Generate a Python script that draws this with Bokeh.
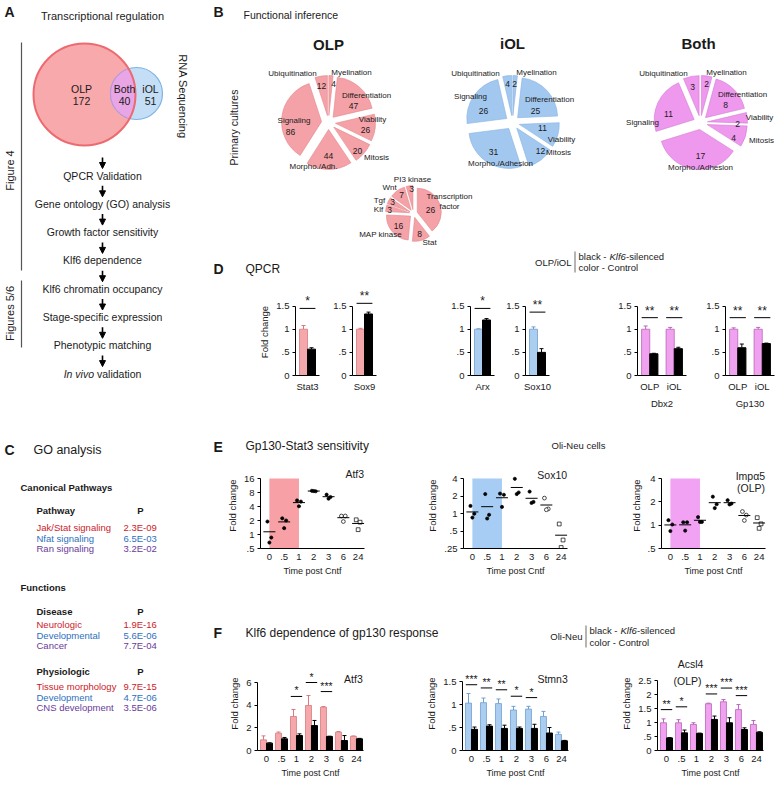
import math
from bokeh.plotting import figure
from bokeh.layouts import row, column
from bokeh.models import (ColumnDataSource, Range1d, FactorRange, FixedTicker,
                          CustomJSTickFormatter, Arrow, NormalHead, Label, BoxAnnotation)
from bokeh.transform import dodge
from bokeh.core.properties import value
from bokeh.embed import file_html
from bokeh.resources import INLINE

FONT = "Liberation Sans"
INK = "#1a1a1a"

# ======================= DATA =======================
# A: Venn + workflow
venn_labels = ["OLP", "Both", "iOL"]
venn_counts = [172, 40, 51]
flow_steps = ["QPCR Validation", "Gene ontology (GO) analysis", "Growth factor sensitivity",
              "Klf6 dependence", "Klf6 chromatin occupancy", "Stage-specific expression",
              "Phenotypic matching", "In vivo validation"]

# C: GO analysis
go_pathways = ["Jak/Stat signaling", "Nfat signaling", "Ran signaling"]
go_pathways_p = ["2.3E-09", "6.5E-03", "3.2E-02"]
go_disease = ["Neurologic", "Developmental", "Cancer"]
go_disease_p = ["1.9E-16", "5.6E-06", "7.7E-04"]
go_physio = ["Tissue morphology", "Development", "CNS development"]
go_physio_p = ["9.7E-15", "4.7E-06", "3.5E-06"]

# B: functional inference pies (clockwise from 12 o'clock)
pie_categories_short = ["Myelination", "Differentiation", "Viability", "Mitosis",
                        "Morpho./Adh.", "Signaling", "Ubiquitination"]
pie_categories_long = ["Myelination", "Differentiation", "Viability", "Mitosis",
                       "Morpho./Adhesion", "Signaling", "Ubiquitination"]
olp_counts = [4, 47, 26, 20, 44, 86, 12]
iol_counts = [2, 25, 11, 12, 31, 26, 4]
both_counts = [2, 8, 2, 4, 17, 11, 3]
signaling_categories = ["Transcription\nfactor", "Stat", "MAP kinase", "Klf", "Tgf", "Wnt", "PI3 kinase"]
signaling_counts = [26, 8, 16, 3, 3, 7, 3]

# D: QPCR
single_genes = ["Stat3", "Sox9", "Arx", "Sox10"]
single_ctrl = [1.00, 1.00, 1.00, 1.00]
single_ctrl_err = [0.08, 0.02, 0.01, 0.05]
single_kd = [0.57, 1.33, 1.20, 0.50]
single_kd_err = [0.03, 0.04, 0.03, 0.08]
single_sig = ["*", "**", "*", "**"]
single_sig_y = [1.45, 1.56, 1.45, 1.37]
stage_groups = ["OLP", "iOL"]
dbx2_ctrl = [1.00, 1.00]
dbx2_ctrl_err = [0.07, 0.04]
dbx2_kd = [0.47, 0.58]
dbx2_kd_err = [0.01, 0.03]
dbx2_sig = ["**", "**"]
dbx2_sig_y = [1.25, 1.25]
gp130_ctrl = [1.00, 1.00]
gp130_ctrl_err = [0.03, 0.04]
gp130_kd = [0.60, 0.69]
gp130_kd_err = [0.08, 0.01]
gp130_sig = ["**", "**"]
gp130_sig_y = [1.25, 1.25]

# E / F: time course (hours post Cntf)
times = ["0", ".5", "1", "2", "3", "6", "24"]
atf3_sens = [[1.90, 0.86, 0.67], [2.23, 2.00, 1.37], [5.40, 5.10, 4.05], [8.70, 8.50, 8.60],
             [7.20, 6.40, 5.90], [2.50, 2.50, 1.90], [2.07, 1.84, 1.27]]
sox10_sens = [[1.35, 0.99, 0.85], [2.16, 0.95, 0.82], [2.20, 2.10, 1.30], [3.95, 2.30, 2.16],
              [2.38, 1.58, 1.52], [1.84, 1.20, 1.16], [0.66, 0.35, 0.26]]
impa5_sens = [[1.16, 1.02, 0.84], [1.09, 1.09, 0.85], [1.27, 1.10, 1.10], [2.33, 1.86, 1.66],
              [2.10, 1.90, 1.85], [1.50, 1.35, 1.15], [1.25, 1.04, 0.91]]

atf3_ctrl = [0.94, 1.53, 3.00, 3.97, 3.82, 1.62, 1.25]
atf3_ctrl_err = [0.35, 0.10, 0.62, 0.88, 0.05, 0.05, 0.03]
atf3_kd = [0.65, 1.03, 1.32, 2.20, 1.24, 0.88, 1.03]
atf3_kd_err = [0.03, 0.12, 0.15, 0.45, 0.02, 0.44, 0.04]
atf3_sig = ["", "", "*", "*", "***", "", ""]
atf3_sig_y = [0, 0, 4.77, 6.00, 5.20, 0, 0]

stmn3_ctrl = [1.03, 1.04, 1.02, 0.88, 0.90, 0.74, 0.35]
stmn3_ctrl_err = [0.21, 0.10, 0.10, 0.08, 0.06, 0.11, 0.05]
stmn3_kd = [0.46, 0.53, 0.48, 0.48, 0.48, 0.38, 0.21]
stmn3_kd_err = [0.05, 0.03, 0.07, 0.03, 0.09, 0.12, 0.01]
stmn3_sig = ["***", "**", "**", "*", "*", "", ""]
stmn3_sig_y = [1.43, 1.36, 1.32, 1.18, 1.15, 0, 0]

acsl4_ctrl = [0.99, 0.99, 0.93, 1.67, 1.74, 1.46, 0.93]
acsl4_ctrl_err = [0.14, 0.11, 0.06, 0.02, 0.08, 0.18, 0.14]
acsl4_kd = [0.45, 0.63, 0.61, 1.11, 0.99, 0.75, 0.65]
acsl4_kd_err = [0.01, 0.10, 0.01, 0.12, 0.18, 0.06, 0.02]
acsl4_sig = ["**", "*", "", "***", "***", "***", ""]
acsl4_sig_y = [1.46, 1.56, 0, 2.02, 2.23, 1.96, 0]

# ======================= STYLE =======================
PINK, PINK_EDGE = "#f5a8ab", "#d8787d"
BLUE, BLUE_EDGE = "#abcdf0", "#6d9fd1"
MAG, MAG_EDGE = "#f0a2f0", "#b865b8"
GO_COLORS = ["#cc2229", "#2e6fc0", "#6a3a9c"]


def canvas(w, h):
    return figure(width=w, height=h, x_range=Range1d(0, w), y_range=Range1d(0, h),
                  x_axis_type=None, y_axis_type=None, toolbar_location=None,
                  output_backend="svg", min_border=0, outline_line_color=None)


def txt(p, x, y, s, size=10.0, align="left", baseline="middle", style="normal",
        color=INK, angle=0.0):
    p.text(x=[x], y=[p.height - y], text=[s], text_font=value(FONT),
           text_font_size=value(f"{size}px"), text_align=align, text_baseline=baseline,
           text_font_style=style, text_color=color, angle=angle)


FMT = CustomJSTickFormatter(code="""
const s = String(Math.round(tick*1000)/1000);
return s.startsWith("0.") ? s.slice(1) : s;
""")


def style_axes(p, ticks, ylabel=None, xlabel=None):
    p.grid.visible = False
    for ax in (p.xaxis, p.yaxis):
        ax.axis_line_color = "black"
        ax.major_tick_line_color = "black"
        ax.minor_tick_line_color = None
        ax.major_label_text_font = FONT
        ax.major_label_text_font_size = "9.5px"
        ax.major_label_text_color = INK
        ax.axis_label_text_font = FONT
        ax.axis_label_text_font_style = "normal"
        ax.axis_label_text_font_size = "9.5px"
        ax.axis_label_text_color = INK
    p.yaxis.ticker = FixedTicker(ticks=ticks)
    p.yaxis.bounds = (ticks[0], ticks[-1])
    p.yaxis.formatter = FMT
    p.yaxis.major_tick_out = 3
    p.yaxis.major_tick_in = 0
    p.yaxis.major_label_standoff = 3
    p.yaxis.axis_label_standoff = 3
    p.yaxis.axis_label = ylabel
    p.xaxis.major_tick_out = 0
    p.xaxis.major_tick_in = 0
    p.xaxis.major_label_standoff = 5
    p.xaxis.axis_label_standoff = 3
    p.xaxis.axis_label = xlabel


# ======================= LEFT COLUMN (A, C) =======================
LW, LH = 200, 785
left = canvas(LW, LH)

txt(left, 4, 11, "A", 14, style="bold")
txt(left, 102, 15, "Transcriptional regulation", 11, align="center")

c1 = (84, LH - 94, 51)
c2 = (136, LH - 93, 26)


def lens(a, b, n=720):
    pts = []
    for k in range(n):
        t = 2 * math.pi * k / n
        x, y = b[0] + b[2] * math.cos(t), b[1] + b[2] * math.sin(t)
        if (x - a[0]) ** 2 + (y - a[1]) ** 2 <= a[2] ** 2:
            pts.append((x, y))
        x, y = a[0] + a[2] * math.cos(t), a[1] + a[2] * math.sin(t)
        if (x - b[0]) ** 2 + (y - b[1]) ** 2 <= b[2] ** 2:
            pts.append((x, y))
    mx = sum(q[0] for q in pts) / len(pts)
    my = sum(q[1] for q in pts) / len(pts)
    pts.sort(key=lambda q: math.atan2(q[1] - my, q[0] - mx))
    return [q[0] for q in pts], [q[1] for q in pts]


left.circle(x=[c1[0]], y=[c1[1]], radius=c1[2], fill_color="#f8a9ab", line_color=None)
left.circle(x=[c2[0]], y=[c2[1]], radius=c2[2], fill_color="#c4def5", line_color="#7db3e6", line_width=1.2)
lx, ly = lens(c1, c2)
left.patch(lx, ly, fill_color="#e9a6e6", line_color="#c58fd9", line_width=1)
left.circle(x=[c1[0]], y=[c1[1]], radius=c1[2], fill_color=None, line_color="#ec6a70", line_width=2)

venn_text_pos = [(81, 88), (124, 88), (150, 88)]
for (vx, vy), lab, n in zip(venn_text_pos, venn_labels, venn_counts):
    txt(left, vx, vy, lab, 10.5, align="center")
    txt(left, vx, vy + 12, str(n), 10.5, align="center")

txt(left, 182.5, 96, "RNA Sequencing", 11, align="center", angle=-math.pi / 2)

left.line(x=[21, 21], y=[LH - 42, LH - 270], line_color="#555555", line_width=1.2)
left.line(x=[21, 21], y=[LH - 280, LH - 347], line_color="#555555", line_width=1.2)
txt(left, 9, 170, "Figure 4", 11, align="center", angle=math.pi / 2)
txt(left, 9, 313, "Figures 5/6", 11, align="center", angle=math.pi / 2)

FX = 102
for i, step in enumerate(flow_steps):
    y = 175 + i * 28.3
    left.add_layout(Arrow(end=NormalHead(size=6, fill_color="black", line_color="black"),
                          x_start=FX, y_start=LH - (y - 18), x_end=FX, y_end=LH - (y - 7),
                          line_color="black", line_width=1.6))
    if step.startswith("In vivo"):
        txt(left, FX - 8.5, y, "In vivo", 10.5, align="right", style="italic")
        txt(left, FX - 5.5, y, step[len("In vivo "):], 10.5, align="left")
    else:
        txt(left, FX, y, step, 10.5, align="center")

# C
txt(left, 4, 449, "C", 14, style="bold")
txt(left, 33, 449, "GO analysis", 12.5)
txt(left, 20, 487, "Canonical Pathways", 9.5, style="bold")
txt(left, 20, 587, "Functions", 9.5, style="bold")


def go_block(header, y0, rows_y, names, pvals):
    txt(left, 36, y0, header, 9.5, style="bold")
    txt(left, 140, y0, "P", 9.5, align="center", style="bold")
    for k, (nm, pv) in enumerate(zip(names, pvals)):
        txt(left, 36, rows_y[k], nm, 9.5, color=GO_COLORS[k])
        txt(left, 123, rows_y[k], pv, 9.5, color=GO_COLORS[k])


go_block("Pathway", 510, [527, 538, 548], go_pathways, go_pathways_p)
go_block("Disease", 611, [624, 634.5, 645], go_disease, go_disease_p)
go_block("Physiologic", 671, [686, 696.5, 707], go_physio, go_physio_p)

# ======================= B: PIES =======================
RW = 578
BH = 250
pb = canvas(RW, BH)
BX = lambda x: x - 200

txt(pb, 13, 11, "B", 14, style="bold")
txt(pb, BX(243), 14, "Functional inference", 10.5)
txt(pb, BX(233), 127, "Primary cultures", 10.5, align="center", angle=math.pi / 2)


def pie(p, cxr, cyr, r, e, counts, cats, color, edge, cat_off, val_off, cat_size=8, val_size=8.5):
    total = float(sum(counts))
    cx, cy = BX(cxr), BH - cyr
    xs, ys, st, en = [], [], [], []
    acc = 0
    for v in counts:
        f0, f1 = acc / total, (acc + v) / total
        acc += v
        mid = math.pi * (f0 + f1)
        xs.append(cx + e * math.sin(mid))
        ys.append(cy + e * math.cos(mid))
        st.append(math.pi / 2 - 2 * math.pi * f1)
        en.append(math.pi / 2 - 2 * math.pi * f0)
    src = ColumnDataSource(dict(x=xs, y=ys, s=st, e=en))
    p.wedge(x="x", y="y", radius=r, start_angle="s", end_angle="e", fill_color=color,
            line_color=edge, line_width=0.6, source=src)
    for cat, v, (cdx, cdy), (vdx, vdy) in zip(cats, counts, cat_off, val_off):
        for li, line in enumerate(cat.split("\n")):
            txt(p, BX(cxr + cdx), cyr + cdy + li * 10, line, cat_size, align="center")
        txt(p, BX(cxr + vdx), cyr + vdy, str(v), val_size, align="center")


pie(pb, 328, 122, 40, 7, olp_counts, pie_categories_short, "#f4a2a7", "#e3878c",
    [(23, -50), (38, -27), (44, -3), (48, 35), (-15, 44), (-34.5, -2), (-36, -49)],
    [(5, -39), (25, -17), (37, 7), (29, 28), (0, 33), (-38, 9), (-7, -37)])
pie(pb, 512, 122, 40, 7, iol_counts, pie_categories_long, "#a2c8f0", "#86b2e0",
    [(24, -50), (37, -23), (49, 17), (46, 30), (-12, 41), (-42, -26), (-37, -49)],
    [(2, -39), (23, -12), (30, 5), (28, 28), (-19, 29), (-29, -12), (-5, -39)])
pie(pb, 700, 122, 40, 7, both_counts, pie_categories_long, "#ee98ee", "#d37bd3",
    [(26, -50), (42, -28), (59, -5), (61, 18), (0, 45), (-58, 0), (-37, -49)],
    [(6, -39), (25, -18), (37, 1), (33, 15), (0, 33), (-32, -9), (-8, -36)])
pie(pb, 413, 213, 24, 4, signaling_counts, signaling_categories, "#f4a2a7", "#e3878c",
    [(36, -17), (16, 29), (-33, 21), (-35, -4), (-34, -13), (-24, -26), (-1, -34)],
    [(17, -4), (6, 20), (-15, 12), (-24, -4), (-21, -12), (-12, -19), (-2, -25)])

for tx, ty, t in [(328, 44, "OLP"), (512, 43, "iOL"), (698, 43, "Both")]:
    txt(pb, BX(tx), ty, t, 15, align="center", style="bold")


# ======================= legends helper =======================
def kd_legend(p, Xf, Yf, name, xr, y1, y2):
    txt(p, Xf(xr), Yf((y1 + y2) / 2), name, 9.5, align="right")
    p.line(x=[Xf(xr + 3.5)] * 2, y=[p.height - Yf(y1 - 5), p.height - Yf(y2 + 5)],
           line_color="#444444", line_width=0.8)
    x0 = xr + 7
    txt(p, Xf(x0), Yf(y1), "black - ", 9.5)
    txt(p, Xf(x0 + 31), Yf(y1), "Klf6", 9.5, style="italic")
    txt(p, Xf(x0 + 47.5), Yf(y1), "-silenced", 9.5)
    txt(p, Xf(x0), Yf(y2), "color - Control", 9.5)


# ======================= D: QPCR =======================
DHH = 38
dh = canvas(RW, DHH)
DX = lambda x: x - 200
DY = lambda y: y - 250
txt(dh, DX(213), DY(268), "D", 14, style="bold")
txt(dh, DX(245), DY(268), "QPCR", 12)
kd_legend(dh, DX, DY, "OLP/iOL", 571, 256, 267)

D_H, D_TOP, D_BOT = 123, 0, 34
D_FRAME = D_H - D_TOP - D_BOT
D_YEND = D_FRAME / 47.33


def qpcr_fig(width, lb, rb, cats, ctrl, ctrl_err, kd, kd_err, sig, sig_y, color, edge,
             ylabel=None, xlabel=None):
    p = figure(width=width, height=D_H, x_range=FactorRange(factors=cats),
               y_range=Range1d(0, D_YEND), toolbar_location=None, output_backend="svg",
               min_border_left=lb, min_border_right=rb, min_border_top=D_TOP,
               min_border_bottom=D_BOT, outline_line_color=None)
    style_axes(p, [0, 0.5, 1, 1.5], ylabel, xlabel)
    src = ColumnDataSource(dict(cat=cats, ctrl=ctrl, kd=kd,
                                ctrl_hi=[a + b for a, b in zip(ctrl, ctrl_err)],
                                kd_hi=[a + b for a, b in zip(kd, kd_err)],
                                sig=sig, sig_y=sig_y))
    xc = dodge("cat", -1 / 6, range=p.x_range)
    xk = dodge("cat", 1 / 6, range=p.x_range)
    p.segment(x0=xc, y0="ctrl", x1=xc, y1="ctrl_hi", line_color=edge, source=src)
    p.scatter(x=xc, y="ctrl_hi", marker="dash", size=4, line_color=edge, source=src)
    p.segment(x0=xk, y0="kd", x1=xk, y1="kd_hi", line_color="black", source=src)
    p.scatter(x=xk, y="kd_hi", marker="dash", size=4, line_color="black", source=src)
    p.vbar(x=xc, top="ctrl", width=1 / 3, fill_color=color, line_color=edge, line_width=0.8, source=src)
    p.vbar(x=xk, top="kd", width=1 / 3, fill_color="black", line_color="black", source=src)
    p.segment(x0=dodge("cat", -0.33, range=p.x_range), x1=dodge("cat", 0.33, range=p.x_range),
              y0="sig_y", y1="sig_y", line_color="black", line_width=1, source=src)
    p.text(x="cat", y="sig_y", text="sig", text_align="center", text_baseline="bottom",
           text_font=value(FONT), text_font_size=value("12px"), text_color=INK, source=src)
    return p


d_colors = [(PINK, PINK_EDGE), (PINK, PINK_EDGE), (BLUE, BLUE_EDGE), (BLUE, BLUE_EDGE)]
d_geom = [(125, 95, 6), (105, 27, 54), (70, 40, 6), (90, 25, 41)]
d_figs = []
for k in range(4):
    w, lb, rb = d_geom[k]
    d_figs.append(qpcr_fig(w, lb, rb, [single_genes[k]], [single_ctrl[k]], [single_ctrl_err[k]],
                           [single_kd[k]], [single_kd_err[k]], [single_sig[k]], [single_sig_y[k]],
                           d_colors[k][0], d_colors[k][1],
                           ylabel="Fold change" if k == 0 else None))
d_figs.append(qpcr_fig(110, 47, 14, stage_groups, dbx2_ctrl, dbx2_ctrl_err, dbx2_kd, dbx2_kd_err,
                       dbx2_sig, dbx2_sig_y, MAG, MAG_EDGE, xlabel="Dbx2"))
d_figs.append(qpcr_fig(78, 25, 4, stage_groups, gp130_ctrl, gp130_ctrl_err, gp130_kd, gp130_kd_err,
                       gp130_sig, gp130_sig_y, MAG, MAG_EDGE, xlabel="Gp130"))

# ======================= E: sensitivity =======================
EHH = 51
eh = canvas(RW, EHH)
EX = lambda x: x - 200
EY = lambda y: y - 411
txt(eh, EX(213), EY(446), "E", 14, style="bold")
txt(eh, EX(245), EY(445), "Gp130-Stat3 sensitivity", 12)
txt(eh, EX(578), EY(445), "Oli-Neu cells", 9.5, align="center")

E_H, E_TOP, E_BOT = 120, 0, 34
E_FRAME = E_H - E_TOP - E_BOT
E_SPAN = 70
XR_E = (-0.6, 6.43)
idx = list(range(len(times)))
tick_labels = {i: t for i, t in enumerate(times)}
shade_end = times.index("1")


def sens_fig(width, lb, rb, reps, ticks, shade, labels):
    ymin, ytop = ticks[0], ticks[-1]
    yend = ytop * (ytop / ymin) ** ((E_FRAME - E_SPAN) / E_SPAN)
    p = figure(width=width, height=E_H, x_range=Range1d(*XR_E), y_range=Range1d(ymin, yend),
               y_axis_type="log", toolbar_location=None, output_backend="svg",
               min_border_left=lb, min_border_right=rb, min_border_top=E_TOP,
               min_border_bottom=E_BOT, outline_line_color=None)
    style_axes(p, ticks, "Fold change", "Time post Cntf")
    p.xaxis.ticker = FixedTicker(ticks=idx)
    p.xaxis.major_label_overrides = tick_labels
    p.xaxis.axis_label_text_font_size = "9px"
    p.add_layout(BoxAnnotation(left=0, right=shade_end, bottom=ymin, top=ytop, fill_color=shade,
                               fill_alpha=1.0, line_color=None, level="underlay"))
    jit = [-0.13, 0.13, 0.0]
    xs, ys, mk, fc, sz = [], [], [], [], []
    for i, vals in enumerate(reps):
        for j, v in enumerate(vals):
            xs.append(i + jit[j])
            ys.append(v)
            mk.append("square" if times[i] == "24" else "circle")
            opened = times[i] in ("6", "24")
            fc.append("white" if opened else "black")
            sz.append(3.8 if opened else 3.2)
    p.scatter(x="x", y="y", marker="m", fill_color="f", size="s", line_color="black",
              line_width=0.7, source=ColumnDataSource(dict(x=xs, y=ys, m=mk, f=fc, s=sz)))
    means = [sum(v) / len(v) for v in reps]
    p.scatter(x=idx, y=means, marker="dash", size=12, line_color="black", line_width=1)
    for text, px_below in labels:
        yy = yend / (yend / ymin) ** (px_below / E_FRAME)
        p.add_layout(Label(x=XR_E[1] - 0.03, y=yy, text=text, text_font=FONT, text_font_size="10.5px",
                           text_align="right", text_baseline="middle", text_color=INK))
    return p


e_figs = [
    sens_fig(203, 60, 39, atf3_sens, [0.5, 1, 2, 4, 8, 16], "#f7a1a6", [("Atf3", 11)]),
    sens_fig(198, 60, 34, sox10_sens, [0.25, 0.5, 1, 2, 4], "#a8cdf4", [("Sox10", 12)]),
    sens_fig(177, 60, 13, impa5_sens, [0.5, 1, 2, 4], "#f2a2f2", [("Impα5", 13), ("(OLP)", 25)]),
]

# ======================= F: Klf6 dependence =======================
FHH = 70
fh = canvas(RW, FHH)
FXh = lambda x: x - 200
FYh = lambda y: y - 582
txt(fh, FXh(213), FYh(632), "F", 14, style="bold")
txt(fh, FXh(245), FYh(632), "Klf6 dependence of gp130 response", 12)
kd_legend(fh, FXh, FYh, "Oli-Neu", 582, 630, 642)

F_H, F_TOP, F_BOT = 133, 4, 35
F_FRAME = F_H - F_TOP - F_BOT
XR_F = (-0.6, 6.47)


def dep_fig(width, lb, rb, ctrl, ctrl_err, kd, kd_err, sig, sig_y, color, edge, ticks, span_px, labels):
    yend = ticks[-1] * F_FRAME / span_px
    p = figure(width=width, height=F_H, x_range=Range1d(*XR_F), y_range=Range1d(0, yend),
               toolbar_location=None, output_backend="svg",
               min_border_left=lb, min_border_right=rb, min_border_top=F_TOP,
               min_border_bottom=F_BOT, outline_line_color=None)
    style_axes(p, ticks, "Fold change", "Time post Cntf")
    p.xaxis.ticker = FixedTicker(ticks=idx)
    p.xaxis.major_label_overrides = tick_labels
    p.xaxis.axis_label_text_font_size = "9px"
    src = ColumnDataSource(dict(xc=[i - 0.2 for i in idx], xk=[i + 0.2 for i in idx],
                                ctrl=ctrl, kd=kd,
                                ctrl_hi=[a + b for a, b in zip(ctrl, ctrl_err)],
                                kd_hi=[a + b for a, b in zip(kd, kd_err)]))
    p.segment(x0="xc", y0="ctrl", x1="xc", y1="ctrl_hi", line_color=edge, source=src)
    p.scatter(x="xc", y="ctrl_hi", marker="dash", size=4, line_color=edge, source=src)
    p.segment(x0="xk", y0="kd", x1="xk", y1="kd_hi", line_color="black", source=src)
    p.scatter(x="xk", y="kd_hi", marker="dash", size=4, line_color="black", source=src)
    p.vbar(x="xc", top="ctrl", width=0.4, fill_color=color, line_color=edge, line_width=0.8, source=src)
    p.vbar(x="xk", top="kd", width=0.4, fill_color="black", line_color="black", source=src)
    si = [i for i in idx if sig[i]]
    ssrc = ColumnDataSource(dict(x=si, x0=[i - 0.38 for i in si], x1=[i + 0.38 for i in si],
                                 y=[sig_y[i] for i in si], t=[sig[i] for i in si]))
    p.segment(x0="x0", x1="x1", y0="y", y1="y", line_color="black", line_width=1, source=ssrc)
    p.text(x="x", y="y", text="t", text_align="center", text_baseline="bottom",
           text_font=value(FONT), text_font_size=value("10.5px"), text_color=INK, source=ssrc)
    for text, xpos, align, px_below in labels:
        p.add_layout(Label(x=xpos, y=yend * (1 - px_below / F_FRAME), text=text, text_font=FONT,
                           text_font_size="10.5px", text_align=align, text_baseline="middle",
                           text_color=INK))
    return p


f_figs = [
    dep_fig(205, 57, 42, atf3_ctrl, atf3_ctrl_err, atf3_kd, atf3_kd_err, atf3_sig, atf3_sig_y,
            PINK, PINK_EDGE, [0, 2, 4, 6], 68, [("Atf3", XR_F[1] - 0.05, "right", 22)]),
    dep_fig(199, 57, 36, stmn3_ctrl, stmn3_ctrl_err, stmn3_kd, stmn3_kd_err, stmn3_sig, stmn3_sig_y,
            BLUE, BLUE_EDGE, [0, 0.5, 1, 1.5], 69, [("Stmn3", XR_F[1] - 0.05, "right", 22)]),
    dep_fig(174, 53, 15, acsl4_ctrl, acsl4_ctrl_err, acsl4_kd, acsl4_kd_err, acsl4_sig, acsl4_sig_y,
            MAG, MAG_EDGE, [0, 0.5, 1, 1.5, 2, 2.5], 70,
            [("Acsl4", 1.6, "center", 7), ("(OLP)", 1.4, "center", 24)]),
]

right_col = column(pb, dh, row(*d_figs), eh, row(*e_figs), fh, row(*f_figs))
root = row(left, right_col)
open("out.html", "w").write(file_html(root, INLINE, title="Figure"))
